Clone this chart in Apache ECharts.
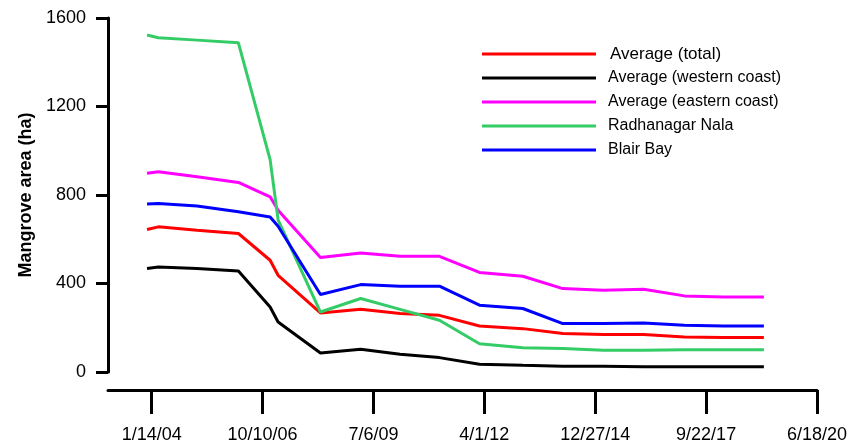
<!DOCTYPE html>
<html>
<head>
<meta charset="utf-8">
<script src="https://cdn.jsdelivr.net/npm/echarts@6/dist/echarts.min.js"></script>
<style>
  html, body { margin: 0; padding: 0; background: #fff; }
  #chart { width: 862px; height: 448px; }
</style>
</head>
<body>
<div id="chart"></div>
<script>
// Survey dates (one image per year, roughly)
const dates = [
  '2003-12-03', '2004-03-14', '2005-02-26', '2006-03-06', '2006-12-17', '2007-02-27',
  '2008-03-15', '2009-03-13', '2010-03-03', '2011-02-21', '2012-02-17', '2013-03-14',
  '2014-03-10', '2015-03-09', '2016-03-07', '2017-03-10', '2018-02-25', '2019-02-25'
];

// Mangrove area (ha)
const avgTotal   = [644, 656, 641, 626, 505, 437, 267, 284, 264, 256, 208, 196, 174, 169, 170, 158, 156, 156];
const avgWestern = [468, 475, 468, 457, 294, 226,  86, 103,  80,  65,  35,  30,  26,  26,  24,  24,  24,  24];
const avgEastern = [898, 905, 882, 857, 792, 731, 518, 538, 523, 523, 450, 433, 377, 370, 374, 344, 339, 339];
const radhanagar = [1523, 1511, 1500, 1488, 960, 688, 271, 332, 283, 234, 128, 110, 106, 98, 98, 101, 101, 101];
const blairBay   = [759, 762, 750, 724, 701, 659, 350, 395, 388, 388, 302, 287, 219, 219, 222, 211, 208, 208];

const seriesNames = ['Average (total)', 'Average (western coast)', 'Average (eastern coast)', 'Radhanagar Nala', 'Blair Bay'];
const seriesColors = ['#ff0000', '#000000', '#ff00ff', '#33cc66', '#0000ff'];
const seriesValues = [avgTotal, avgWestern, avgEastern, radhanagar, blairBay];

// Date axis range and tick dates
const axisStart = '2002-12-16';
const axisEnd = '2020-06-18';
const tickDates = ['2004-01-14', '2006-10-10', '2009-07-06', '2012-04-01', '2014-12-27', '2017-09-22', '2020-06-18'];
const yTicks = [0, 400, 800, 1200, 1600];

// Day number helpers (days since 1970-01-01, UTC)
function dayNum(s) {
  const [y, m, d] = s.split('-').map(Number);
  return Date.UTC(y, m - 1, d) / 86400000;
}
function fmtDay(n) {
  const dt = new Date(Math.round(n) * 86400000);
  const yy = String(dt.getUTCFullYear() % 100).padStart(2, '0');
  return (dt.getUTCMonth() + 1) + '/' + dt.getUTCDate() + '/' + yy;
}

const FONT = 'Liberation Sans, Arial, sans-serif';
const chart = echarts.init(document.getElementById('chart'), null, { renderer: 'canvas' });

chart.setOption({
  animation: false,
  backgroundColor: '#ffffff',
  grid: { left: 108, right: 45, top: 18, bottom: 76, containLabel: false },
  legend: {
    orient: 'vertical',
    left: 477,
    top: 40,
    icon: 'rect',
    itemWidth: 114,
    itemHeight: 3,
    itemGap: 6,
    textStyle: { fontFamily: FONT, fontSize: 16, color: '#000', padding: [0, 0, 0, 7], lineHeight: 18 },
    data: seriesNames.map((n, i) => i === 0
      ? { name: n, textStyle: { fontSize: 17, padding: [0, 0, 0, 9] } }
      : { name: n })
  },
  xAxis: {
    type: 'value',
    min: dayNum(axisStart),
    max: dayNum(axisEnd),
    offset: 18,
    splitLine: { show: false },
    axisLine: { show: true, onZero: false, lineStyle: { color: '#000', width: 3 } },
    axisTick: {
      show: true, length: 24, inside: false,
      lineStyle: { color: '#000', width: 3 },
      customValues: tickDates.map(dayNum)
    },
    axisLabel: {
      margin: 36,
      fontFamily: FONT, fontSize: 18, color: '#000',
      customValues: tickDates.map(dayNum),
      formatter: v => fmtDay(v)
    }
  },
  yAxis: {
    type: 'value',
    min: yTicks[0],
    max: yTicks[yTicks.length - 1],
    interval: 400,
    name: 'Mangrove area (ha)',
    nameLocation: 'middle',
    nameGap: 72,
    nameTextStyle: { fontFamily: FONT, fontSize: 18, fontWeight: 'bold', color: '#000' },
    splitLine: { show: false },
    axisLine: { show: true, lineStyle: { color: '#000', width: 3 } },
    axisTick: { show: true, length: 12, lineStyle: { color: '#000', width: 3 } },
    axisLabel: { margin: 22, fontFamily: FONT, fontSize: 18, color: '#000', formatter: v => String(v) }
  },
  series: seriesNames.map((name, i) => ({
    name: name,
    type: 'line',
    symbol: 'none',
    color: seriesColors[i],
    lineStyle: { width: 3, color: seriesColors[i] },
    data: dates.map((d, k) => [dayNum(d), seriesValues[i][k]])
  }))
});
</script>
</body>
</html>
